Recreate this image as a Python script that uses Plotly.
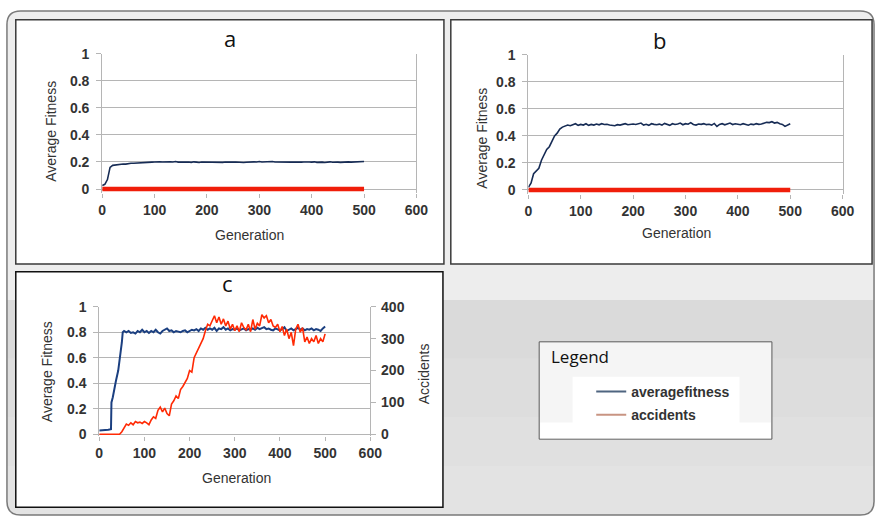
import plotly.graph_objects as go

W, H = 888, 523

# ---------------- data ----------------
GEN = list(range(0, 501, 5))

# panel a: average fitness
FIT_A = [0.025, 0.035, 0.07, 0.16, 0.175, 0.178, 0.18, 0.182, 0.185, 0.184,
         0.188, 0.19, 0.19, 0.192, 0.193, 0.195, 0.195, 0.196, 0.197, 0.199,
         0.20, 0.198, 0.201, 0.20, 0.202, 0.199, 0.201, 0.20, 0.203, 0.199,
         0.20, 0.202, 0.198, 0.20, 0.197, 0.201, 0.199, 0.196, 0.20, 0.199,
         0.201, 0.198, 0.20, 0.196, 0.195, 0.198, 0.197, 0.20, 0.198, 0.196,
         0.199, 0.20, 0.197, 0.199, 0.196, 0.198, 0.20, 0.199, 0.201, 0.20,
         0.203, 0.20, 0.202, 0.199, 0.201, 0.203, 0.20, 0.199, 0.201, 0.198,
         0.20, 0.197, 0.199, 0.20, 0.198, 0.201, 0.199, 0.20, 0.202, 0.20,
         0.199, 0.201, 0.197, 0.20, 0.199, 0.196, 0.20, 0.201, 0.198, 0.20,
         0.199, 0.197, 0.20, 0.198, 0.201, 0.199, 0.20, 0.202, 0.201, 0.205,
         0.203]

# panel b: average fitness
FIT_B = [0.02, 0.05, 0.12, 0.14, 0.16, 0.22, 0.26, 0.30, 0.32, 0.36,
         0.40, 0.42, 0.45, 0.465, 0.47, 0.48, 0.475, 0.48, 0.49, 0.478,
         0.485, 0.48, 0.49, 0.478, 0.485, 0.48, 0.488, 0.482, 0.49, 0.484,
         0.486, 0.48, 0.478, 0.475, 0.483, 0.48, 0.485, 0.49, 0.482, 0.486,
         0.488, 0.484, 0.49, 0.495, 0.48, 0.486, 0.478, 0.49, 0.485, 0.482,
         0.487, 0.48, 0.492, 0.485, 0.478, 0.49, 0.484, 0.488, 0.495, 0.482,
         0.49, 0.486, 0.498, 0.484, 0.48, 0.488, 0.485, 0.49, 0.483, 0.486,
         0.48, 0.492, 0.47, 0.485, 0.49, 0.482, 0.488, 0.495, 0.484, 0.49,
         0.486, 0.482, 0.49, 0.484, 0.479, 0.487, 0.483, 0.49, 0.485, 0.488,
         0.492, 0.50, 0.498, 0.505, 0.495, 0.50, 0.49, 0.485, 0.47, 0.478,
         0.49]

# panels a and b: accidents (flat zero)
ACC_AB_GEN = [0, 500]
ACC_AB = [0, 0]

# panel c: average fitness
GEN_C_FIT = [0, 10, 20, 26, 27, 30, 34, 37, 42, 47, 50, 52] + list(range(55, 501, 5))
FIT_C = [0.03, 0.03, 0.035, 0.04, 0.25, 0.29, 0.35, 0.42, 0.50, 0.62, 0.72, 0.80,
         0.81, 0.80, 0.81, 0.795, 0.80, 0.79, 0.81, 0.80, 0.82, 0.80,
         0.81, 0.795, 0.81, 0.80, 0.82, 0.80, 0.79, 0.81, 0.82, 0.83,
         0.81, 0.815, 0.80, 0.81, 0.805, 0.80, 0.81, 0.815, 0.80, 0.81,
         0.82, 0.815, 0.825, 0.81, 0.83, 0.82, 0.835, 0.82, 0.83, 0.82,
         0.835, 0.81, 0.83, 0.825, 0.84, 0.82, 0.83, 0.815, 0.825, 0.82,
         0.83, 0.815, 0.82, 0.83, 0.815, 0.825, 0.82, 0.83, 0.82, 0.835,
         0.825, 0.83, 0.84, 0.825, 0.83, 0.82, 0.815, 0.83, 0.82, 0.815,
         0.825, 0.84, 0.81, 0.82, 0.83, 0.815, 0.825, 0.835, 0.82, 0.83,
         0.815, 0.825, 0.82, 0.83, 0.815, 0.825, 0.82, 0.81, 0.83, 0.845]

# panel c: accidents
ACC_C = [0, 0, 0, 0, 0, 0, 0, 0, 0, 0,
         8, 20, 32, 28, 36, 30, 40, 36, 38, 34,
         40, 36, 30, 45, 55, 50, 75, 85, 70, 82,
         65, 58, 95, 105, 120, 112, 140, 150, 165, 175,
         200, 195, 240, 255, 270, 280, 300, 325, 345, 340,
         355, 372, 350, 368, 345, 362, 340, 355, 330, 345,
         325, 340, 322, 350, 335, 328, 345, 322, 360, 330,
         348, 340, 375, 365, 372, 350, 360, 340, 335, 345,
         322, 338, 310, 330, 300, 320, 278, 330, 345, 320,
         335, 290, 305, 285, 300, 290, 310, 285, 300, 290,
         315]

X_TICKS = [0, 100, 200, 300, 400, 500, 600]
FIT_TICKS = [0, 0.2, 0.4, 0.6, 0.8, 1]
FIT_LABELS = ["0", "0.2", "0.4", "0.6", "0.8", "1"]
ACC_TICKS = [0, 100, 200, 300, 400]
ACC_LABELS = ["0", "100", "200", "300", "400"]
PANEL_TITLES = ["a", "b", "c"]
SERIES_NAMES = ["averagefitness", "accidents"]


# ---------------- helpers ----------------
def px(x):
    return x / W


def py(y):
    return 1 - y / H


def ydom(top_px, bottom_px):
    return [py(bottom_px), py(top_px)]


NAVY = "#172c55"
RED = "#f01e0a"
GRID = "#b5b5b5"
TICKFONT = dict(family="Liberation Sans, Arial, sans-serif", size=14, color="#333333", weight="bold")
LABELFONT = dict(family="Liberation Sans, Arial, sans-serif", size=14, color="#333333")

fig = go.Figure()

# panel a
fig.add_trace(go.Scatter(x=ACC_AB_GEN, y=ACC_AB, mode="lines", line=dict(color=RED, width=4.5),
                         xaxis="x", yaxis="y", showlegend=False, hoverinfo="skip"))
fig.add_trace(go.Scatter(x=GEN, y=FIT_A, mode="lines", line=dict(color=NAVY, width=1.6),
                         xaxis="x", yaxis="y", showlegend=False))
# panel b
fig.add_trace(go.Scatter(x=ACC_AB_GEN, y=ACC_AB, mode="lines", line=dict(color=RED, width=4.5),
                         xaxis="x2", yaxis="y2", showlegend=False, hoverinfo="skip"))
fig.add_trace(go.Scatter(x=GEN, y=FIT_B, mode="lines", line=dict(color=NAVY, width=1.6),
                         xaxis="x2", yaxis="y2", showlegend=False))
# panel c
fig.add_trace(go.Scatter(x=GEN, y=ACC_C, mode="lines", line=dict(color="#ff2a05", width=1.6),
                         xaxis="x3", yaxis="y4", showlegend=False))
fig.add_trace(go.Scatter(x=GEN_C_FIT, y=FIT_C, mode="lines", line=dict(color="#1b3f80", width=2),
                         xaxis="x3", yaxis="y3", showlegend=False))

# legend entries (faded colours like the pasted legend image)
fig.add_trace(go.Scatter(x=[None], y=[None], mode="lines", name=SERIES_NAMES[0], legendgroup="g1",
                         line=dict(color="#4f6580", width=2), xaxis="x3", yaxis="y3"))
fig.add_trace(go.Scatter(x=[None], y=[None], mode="lines", name=SERIES_NAMES[1], legendgroup="g2",
                         line=dict(color="#c89482", width=2), xaxis="x3", yaxis="y3"))


def xaxis_cfg(left, right, anchor):
    return dict(domain=[px(left), px(right)], range=[0, 600], anchor=anchor,
                tickvals=X_TICKS, ticks="outside", ticklen=4, tickcolor=GRID,
                showgrid=False, zeroline=False, showline=False,
                tickfont=TICKFONT, ticklabelstandoff=0, fixedrange=True)


def yaxis_cfg(top, bottom, anchor, lo):
    return dict(domain=ydom(top, bottom), range=[lo, 1],
                anchor=anchor, side="left",
                tickvals=FIT_TICKS, ticktext=FIT_LABELS,
                ticks="outside", ticklen=5, tickcolor=GRID,
                showgrid=True, gridcolor=GRID, gridwidth=1,
                zeroline=False, showline=True, linecolor=GRID, linewidth=1, mirror=True,
                tickfont=TICKFONT, ticklabelstandoff=4, fixedrange=True)


# pixel geometry of the plot areas
A = dict(l=100, r=420, t=47, z=186)
B = dict(l=534, r=854, t=48, z=187)
C = dict(l=97, r=373, t=307, z=438)

lo_a = -4 / (A["z"] - A["t"])
lo_b = -4 / (B["z"] - B["t"])
lo_c = -2 / (C["z"] - C["t"])

fig.update_layout(
    xaxis=xaxis_cfg(A["l"], A["r"], "y"),
    yaxis=yaxis_cfg(A["t"], A["z"] + 4, "x", lo_a),
    xaxis2=xaxis_cfg(B["l"], B["r"], "y2"),
    yaxis2=yaxis_cfg(B["t"], B["z"] + 4, "x2", lo_b),
    xaxis3=xaxis_cfg(C["l"], C["r"], "y3"),
    yaxis3=yaxis_cfg(C["t"], C["z"] + 2, "x3", lo_c),
    yaxis4=dict(domain=ydom(C["t"], C["z"] + 2), range=[lo_c * 400, 400], anchor="x3",
                overlaying="y3", side="right", tickvals=ACC_TICKS, ticktext=ACC_LABELS,
                ticks="outside", ticklen=5, tickcolor=GRID, showgrid=False, zeroline=False,
                showline=True, linecolor=GRID, tickfont=TICKFONT, ticklabelstandoff=2,
                fixedrange=True),
)

# ---------------- background shapes ----------------
shapes = []
R = 14
L0, T0, R0, B0 = 3, 3, 886, 521


def rounded_path(l, t, r, b, rad, top_round=True):
    if top_round:
        p = f"M {px(l+rad)},{py(t)} L {px(r-rad)},{py(t)} Q {px(r)},{py(t)} {px(r)},{py(t+rad)} "
    else:
        p = f"M {px(l)},{py(t)} L {px(r)},{py(t)} "
    p += f"L {px(r)},{py(b-rad)} Q {px(r)},{py(b)} {px(r-rad)},{py(b)} "
    p += f"L {px(l+rad)},{py(b)} Q {px(l)},{py(b)} {px(l)},{py(b-rad)} "
    if top_round:
        p += f"L {px(l)},{py(t+rad)} Q {px(l)},{py(t)} {px(l+rad)},{py(t)} Z"
    else:
        p += "Z"
    return p


def band(t, b):
    return f"M {px(L0)},{py(t)} L {px(R0)},{py(t)} L {px(R0)},{py(b)} L {px(L0)},{py(b)} Z"


shapes.append(dict(type="path", xref="paper", yref="paper", path=rounded_path(L0, T0, R0, B0, R),
                   fillcolor="#ededed", line=dict(width=0), layer="below"))
shapes.append(dict(type="path", xref="paper", yref="paper",
                   path=rounded_path(L0, 300, R0, B0, R, top_round=False),
                   fillcolor="#dadada", line=dict(width=0), layer="below"))
shapes.append(dict(type="path", xref="paper", yref="paper", path=band(360, 420),
                   fillcolor="#dddddd", line=dict(width=0), layer="below"))
shapes.append(dict(type="path", xref="paper", yref="paper", path=band(420, 470),
                   fillcolor="#e0e0e0", line=dict(width=0), layer="below"))
shapes.append(dict(type="path", xref="paper", yref="paper",
                   path=rounded_path(L0, 470, R0, B0, R, top_round=False),
                   fillcolor="#e3e3e3", line=dict(width=0), layer="below"))
shapes.append(dict(type="path", xref="paper", yref="paper", path=rounded_path(L0, T0, R0, B0, R),
                   fillcolor="rgba(0,0,0,0)", line=dict(color="#7a7a7a", width=1.5), layer="below"))

# white panels
for (l, t, r, b, col) in [(12, 12, 448, 263, "#3a3a3a"), (455, 12, 884, 263, "#3a3a3a"),
                          (12, 271, 447, 513, "#111111")]:
    shapes.append(dict(type="rect", xref="paper", yref="paper", x0=px(l), x1=px(r), y0=py(b), y1=py(t),
                       fillcolor="white", line=dict(color=col, width=1.5), layer="below"))

# legend box
shapes.append(dict(type="rect", xref="paper", yref="paper", x0=px(545), x1=px(782), y0=py(443), y1=py(343),
                   fillcolor="#f5f5f5", line=dict(color="#5a5a5a", width=1), layer="below"))
shapes.append(dict(type="rect", xref="paper", yref="paper", x0=px(546), x1=px(781), y0=py(442), y1=py(426),
                   fillcolor="#ffffff", line=dict(width=0), layer="below"))
shapes.append(dict(type="rect", xref="paper", yref="paper", x0=px(579), x1=px(749), y0=py(436), y1=py(379),
                   fillcolor="#ffffff", line=dict(width=0), layer="below"))

# ---------------- text ----------------
ann = []
TITLEFONT = dict(family="Open Sans, Noto Sans, sans-serif", size=22, color="#111111")
for (t, x, y) in [(PANEL_TITLES[0], 230, 31), (PANEL_TITLES[1], 668, 33), (PANEL_TITLES[2], 228, 283)]:
    ann.append(dict(text=t, x=px(x), y=py(y), xref="paper", yref="paper", showarrow=False,
                    xanchor="center", yanchor="middle", font=TITLEFONT))
for (x, y) in [(47, 127), (487, 134), (44, 374)]:
    ann.append(dict(text="Average Fitness", x=px(x), y=py(y), xref="paper", yref="paper", showarrow=False,
                    textangle=-90, xanchor="center", yanchor="middle", font=LABELFONT))
ann.append(dict(text="Accidents", x=px(428), y=py(376), xref="paper", yref="paper", showarrow=False,
                textangle=-90, xanchor="center", yanchor="middle", font=LABELFONT))
for (x, y) in [(250, 233), (685, 231), (237, 483)]:
    ann.append(dict(text="Generation", x=px(x), y=py(y), xref="paper", yref="paper", showarrow=False,
                    xanchor="center", yanchor="middle", font=LABELFONT))
ann.append(dict(text="Legend", x=px(555), y=py(358), xref="paper", yref="paper", showarrow=False,
                xanchor="left", yanchor="middle",
                font=dict(family="Open Sans, Noto Sans, sans-serif", size=17, color="#111111")))

fig.update_layout(
    width=W, height=H, autosize=False,
    margin=dict(l=0, r=0, t=0, b=0),
    paper_bgcolor="white", plot_bgcolor="rgba(0,0,0,0)",
    shapes=shapes, annotations=ann,
    showlegend=True,
    legend=dict(x=px(598), y=py(378), xanchor="left", yanchor="top",
                bgcolor="rgba(0,0,0,0)", borderwidth=0, tracegroupgap=2,
                font=dict(family="Liberation Sans, Arial, sans-serif", size=14, color="#333333",
                          weight="bold"),
                itemwidth=30),
)

POST = ("document.documentElement.style.margin='0';document.body.style.margin='0';"
        "document.body.style.padding='0';document.documentElement.style.overflow='hidden';"
        "document.body.style.overflow='hidden';"
        "var d=document.getElementById('{plot_id}');d.style.position='fixed';"
        "d.style.left='0px';d.style.top='0px';")

fig.write_html("out.html", config={"displayModeBar": False}, post_script=POST)
